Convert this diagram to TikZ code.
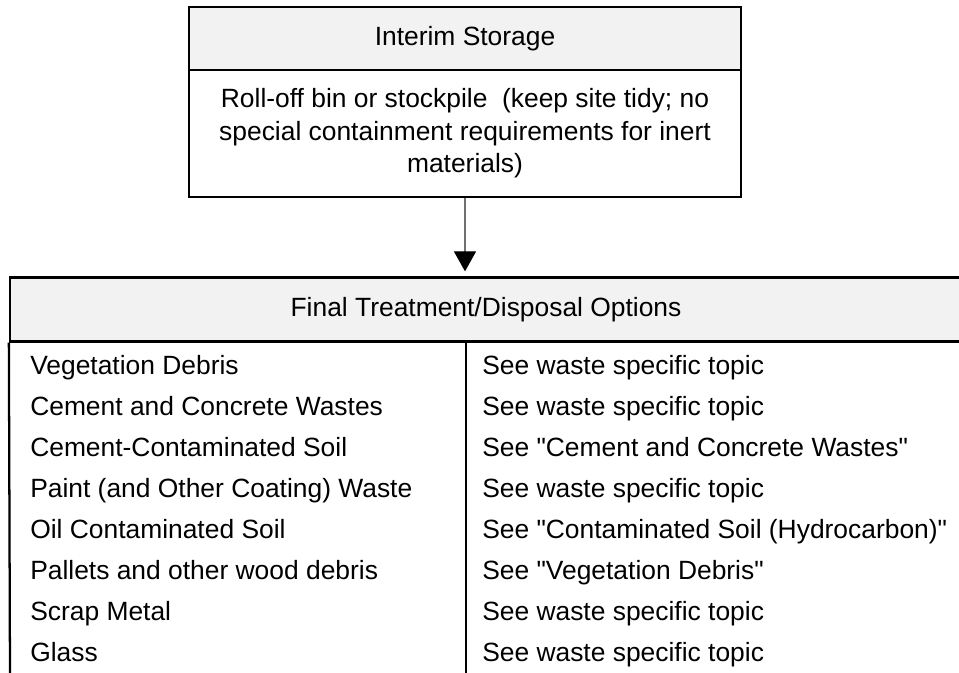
\documentclass[tikz,border=0pt]{standalone}
\usepackage{fontspec}
\setmainfont{Liberation Sans}[Ligatures=TeXOff]
\usetikzlibrary{arrows.meta}
\definecolor{headgray}{HTML}{F2F2F2}
\definecolor{arrowgray}{HTML}{707070}
\begin{document}
\begin{tikzpicture}[x=0.75pt,y=-0.75pt,
  every node/.style={font=\fontsize{19.8pt}{24.4pt}\selectfont},
  frame/.style={draw=black,line width=1.7pt},
  headbox/.style={frame,fill=headgray,inner sep=0pt,align=center},
  bodybox/.style={frame,fill=white,inner sep=0pt,align=center},
  cell/.style={anchor=base west,inner sep=0pt},
  rule/.style={draw=black,line width=1.7pt},
  flow/.style={draw=arrowgray,line width=0.9pt,
    -{Triangle[width=16.5pt,length=15pt,color=black,fill=black]},shorten >=3.75pt}]
\useasboundingbox (0,0) rectangle (959,673);

% interim storage box
\node[headbox,minimum width=414pt,minimum height=47.25pt] (ishead) at (465,38.5)
  {Interim Storage};
\node[bodybox,minimum width=414pt,minimum height=95.25pt] (isbody) at (465,133.5)
  {Roll-off bin or stockpile\ \ (keep site tidy; no\\
   special containment requirements for inert\\
   materials)};

% final treatment table
\node[headbox,minimum width=714pt,minimum height=48pt] (fthead) at (486,309.5)
  {Final Treatment/Disposal Options};
\coordinate (midtop) at (466,341.5);
\coordinate (leftend) at (10,676);
\coordinate (midend) at (466,676);
\draw[rule] (fthead.south west) -- (leftend);
\draw[rule] (midtop) -- (midend);

% flow from storage to final options
\draw[flow] (isbody.south) -- (isbody.south |- fthead.north);

% table rows
\foreach \name/\waste/\action [count=\i from 0] in {
  r1/{Vegetation Debris}/{See waste specific topic},
  r2/{Cement and Concrete Wastes}/{See waste specific topic},
  r3/{Cement-Contaminated Soil}/{See "Cement and Concrete Wastes"},
  r4/{Paint (and Other Coating) Waste}/{See waste specific topic},
  r5/{Oil Contaminated Soil}/{See "Contaminated Soil (Hydrocarbon)"},
  r6/{Pallets and other wood debris}/{See "Vegetation Debris"},
  r7/{Scrap Metal}/{See waste specific topic},
  r8/{Glass}/{See waste specific topic}}
{
  \node[cell] (\name w) at (30,374+41*\i) {\waste};
  \node[cell] (\name a) at (482,374+41*\i) {\action};
}
\end{tikzpicture}
\end{document}
